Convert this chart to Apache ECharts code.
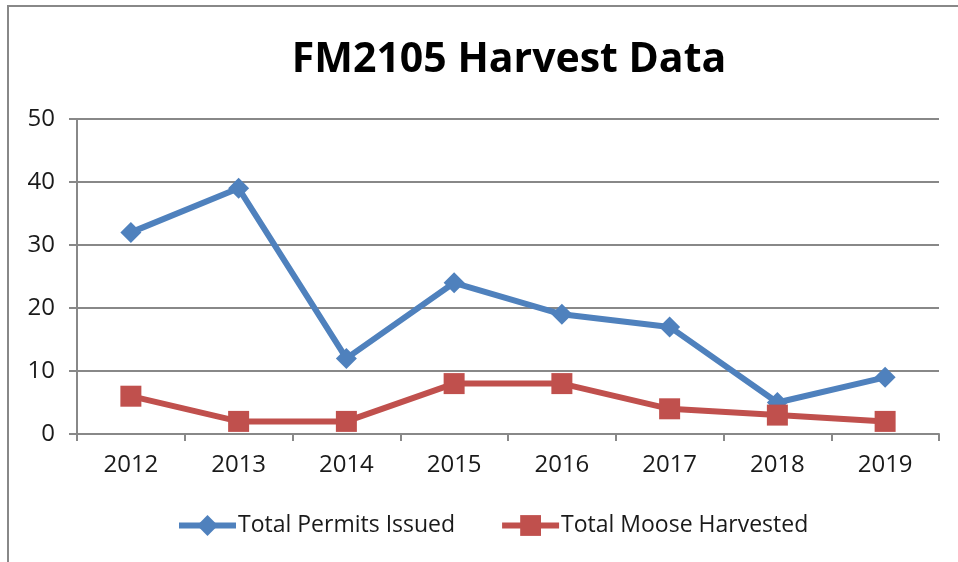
<!DOCTYPE html>
<html>
<head>
<meta charset="utf-8">
<script src="https://cdn.jsdelivr.net/npm/echarts@6/dist/echarts.min.js"></script>
<style>
html,body{margin:0;padding:0;background:#fff;}
#main{width:958px;height:562px;}
</style>
</head>
<body>
<div id="main"></div>
<script>
var years = ['2012', '2013', '2014', '2015', '2016', '2017', '2018', '2019'];
var permits = [32, 39, 12, 24, 19, 17, 5, 9];
var moose = [6, 2, 2, 8, 8, 4, 3, 2];
var yTicks = {min: 0, max: 50, interval: 10};

function harvestChart(id){
	var font = 'Open Sans';
	var option = {
		animation: false,
		title: {
			text: 'FM2105 Harvest Data',
			left: 504,
			textAlign: 'center',
			top: 35,
			textStyle: {
				fontFamily: font,
				fontWeight: 'bold',
				fontSize: 41,
				color: '#000'
			}
		},
		graphic: [{
			type: 'rect',
			shape: {x: 8, y: 6, width: 1200, height: 800},
			style: {fill: 'none', stroke: '#888', lineWidth: 2},
			silent: true
		}],
		legend: {
			bottom: 20,
			left: 171,
			itemWidth: 57,
			itemHeight: 26,
			itemGap: 44,
			lineStyle: {width: 6},
			textStyle: {fontFamily: font, fontSize: 23, color: '#1a1a1a', padding: [0, 0, 0, -3]},
			data: ['Total Permits Issued', 'Total Moose Harvested']
		},
		grid: {left: 77, top: 119, right: 19, bottom: 128},
		xAxis: {
			type: 'category',
			data: years,
			boundaryGap: true,
			axisLine: {lineStyle: {color: '#888', width: 2}},
			axisTick: {show: true, length: 7, lineStyle: {color: '#888', width: 2}},
			axisLabel: {fontFamily: font, fontSize: 24, color: '#1a1a1a', margin: 19}
		},
		yAxis: {
			type: 'value',
			min: yTicks.min,
			max: yTicks.max,
			interval: yTicks.interval,
			axisLine: {show: true, lineStyle: {color: '#888', width: 2}},
			axisTick: {show: true, length: 8, lineStyle: {color: '#888', width: 2}},
			splitLine: {lineStyle: {color: '#888', width: 2}},
			axisLabel: {fontFamily: font, fontSize: 24, color: '#1a1a1a', margin: 22}
		},
		series: [
			{
				name: 'Total Permits Issued',
				type: 'line',
				data: permits,
				symbol: 'diamond',
				symbolSize: 21,
				lineStyle: {color: '#4F81BD', width: 6},
				itemStyle: {color: '#4F81BD'}
			},
			{
				name: 'Total Moose Harvested',
				type: 'line',
				data: moose,
				symbol: 'rect',
				symbolSize: 21,
				lineStyle: {color: '#C0504D', width: 6},
				itemStyle: {color: '#C0504D'}
			}
		]
	};
	var myChart = echarts.init(document.getElementById(id));
	myChart.setOption(option);
}

harvestChart('main');
</script>
</body>
</html>
